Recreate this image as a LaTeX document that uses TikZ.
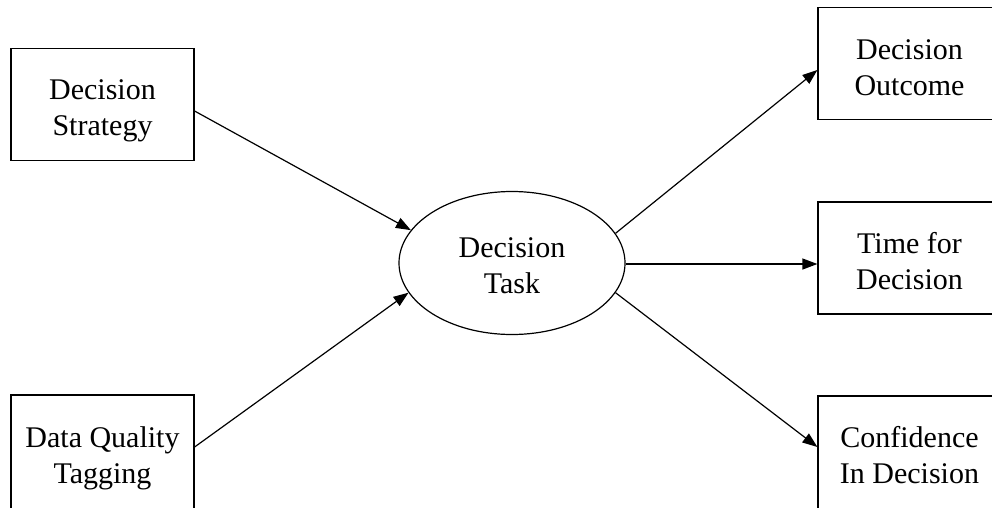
\documentclass[tikz,border=0pt]{standalone}
\usepackage{fontspec}
\setmainfont{Liberation Serif}
\usetikzlibrary{arrows.meta,shapes.geometric}

\begin{document}
\begin{tikzpicture}[x=1pt,y=-1pt,line width=1.2pt,
    box/.style={draw,minimum width=183pt,minimum height=112pt},
    txt/.style={align=center,font=\fontsize{30}{36}\selectfont},
    arr/.style={-{Triangle[length=15pt,width=11pt]}}]
    \path[use as bounding box,clip] (0,0) rectangle (992,507);
    % inputs
    \node[box,label={[txt,yshift=-6.5pt]center:Decision\\Strategy}] (strat) at (102.5,104.5) {};
    \node[box,minimum height=130pt,label={[txt,yshift=2pt]center:Data Quality\\Tagging}] (dqt) at (102.5,460) {};
    % task
    \node[draw,ellipse,minimum width=226pt,minimum height=143pt,
      label={[txt,yshift=-3pt]center:Decision\\Task}] (task) at (512,263) {};
    % outputs
    \node[box,label={[txt,yshift=-4pt]center:Decision\\Outcome}] (outc) at (909.5,63.5) {};
    \node[box,label={[txt,yshift=-3pt]center:Time for\\Decision}] (time) at (909.5,258) {};
    \node[box,minimum height=130pt,label={[txt,yshift=5.5pt]center:Confidence\\In Decision}] (conf) at (909.5,461) {};
    \draw[arr] ([yshift=-6.5pt]strat.east) -- (task.162);
    \draw[arr] ([yshift=13pt]dqt.east) -- (task.196);
    \draw[arr] (task.16) -- ([yshift=-6.5pt]outc.west);
    \draw[arr] ([yshift=-1pt]task.east) -- ([yshift=-6pt]time.west);
    \draw[arr] (task.-16) -- ([yshift=14pt]conf.west);
  \end{tikzpicture}
\end{document}
